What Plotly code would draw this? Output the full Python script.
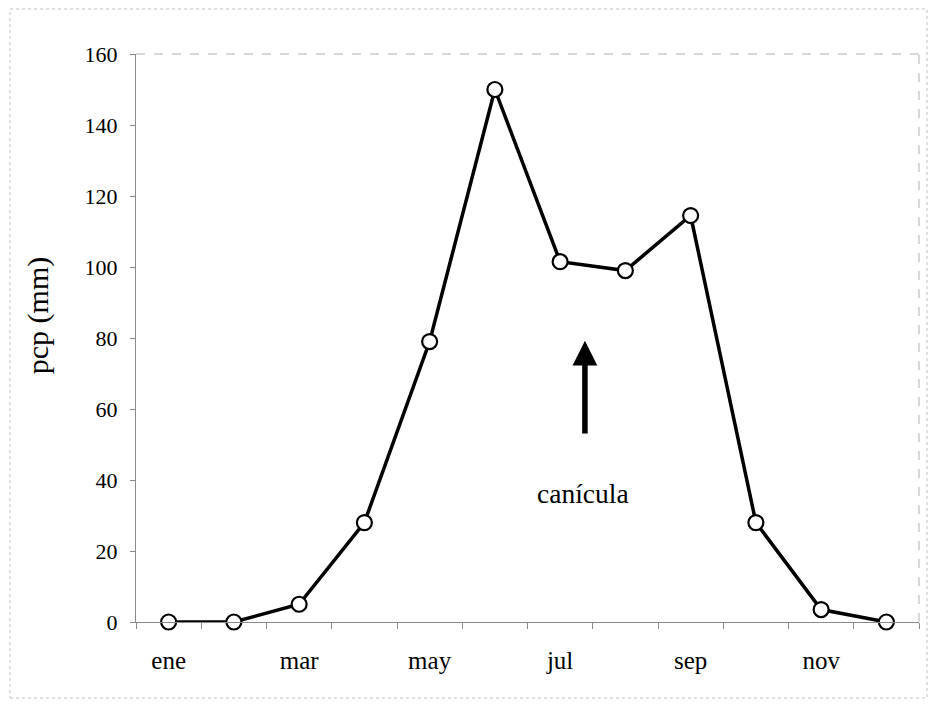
import plotly.graph_objects as go

months = ["ene", "feb", "mar", "abr", "may", "jun", "jul", "ago", "sep", "oct", "nov", "dic"]
pcp = [0, 0, 5, 28, 79, 150, 101.5, 99, 114.5, 28, 3.5, 0]
label_months = ["ene", "mar", "may", "jul", "sep", "nov"]
y_ticks = [0, 20, 40, 60, 80, 100, 120, 140, 160]

arrow_x = 6.38
arrow_tip = 79.2
arrow_tail = 52.7
label_text = "canícula"
label_x = 6.35
label_y = 36.3

FONT = "Liberation Serif, Times New Roman, serif"

fig = go.Figure()
fig.add_trace(go.Scatter(
    x=months, y=pcp, mode="lines+markers",
    line=dict(color="black", width=3.5),
    marker=dict(symbol="circle", size=15, color="white", line=dict(color="black", width=2.2)),
    cliponaxis=False, showlegend=False, hoverinfo="x+y",
))
# invisible trace on overlay axis to draw boundary ticks
fig.add_trace(go.Scatter(x=months, y=pcp, xaxis="x2", mode="markers",
                         marker=dict(opacity=0), showlegend=False, hoverinfo="skip"))

fig.update_layout(
    width=929, height=705,
    margin=dict(l=136, r=10, t=54, b=83),
    paper_bgcolor="white", plot_bgcolor="white",
    font=dict(family=FONT, color="black"),
    xaxis=dict(
        type="category", categoryorder="array", categoryarray=months,
        range=[-0.5, 11.5], tickmode="array", tickvals=label_months, ticktext=label_months,
        ticks="", showgrid=False, zeroline=False, showline=True, linecolor="#8a8a8a", linewidth=1,
        tickfont=dict(size=25, family=FONT), ticklabelstandoff=16,
    ),
    xaxis2=dict(
        type="category", categoryorder="array", categoryarray=months,
        range=[-0.5, 11.5], overlaying="x", side="bottom", tickson="boundaries",
        ticks="outside", ticklen=6, tickcolor="#8a8a8a", showticklabels=False,
        showgrid=False, zeroline=False, showline=False, matches="x",
    ),
    yaxis=dict(
        range=[0, 160], tickmode="array", tickvals=y_ticks, ticks="outside", ticklen=5,
        tickcolor="#8a8a8a", showgrid=False, zeroline=False, showline=True,
        linecolor="#8a8a8a", linewidth=1, tickfont=dict(size=22, family=FONT),
        ticklabelstandoff=8,
    ),
    shapes=[
        dict(type="line", xref="paper", yref="paper", x0=0, x1=1, y0=1, y1=1,
             line=dict(color="#b0b0b0", width=1, dash="dash")),
        dict(type="line", xref="paper", yref="paper", x0=1, x1=1, y0=0, y1=1,
             line=dict(color="#b0b0b0", width=1, dash="dash")),
        dict(type="rect", xref="paper", yref="paper", x0=-0.1609, x1=1.0102, y0=-0.1338, y1=1.0792,
             line=dict(color="#c0c0c0", width=1, dash="dot")),
    ],
    annotations=[
        dict(x=arrow_x, y=arrow_tip, ax=arrow_x, ay=arrow_tail, xref="x", yref="y",
             axref="x", ayref="y", text="", showarrow=True, arrowhead=2, arrowsize=0.9,
             arrowwidth=5.5, arrowcolor="black", standoff=0, startstandoff=0),
        dict(x=label_x, y=label_y, xref="x", yref="y", text=label_text, showarrow=False,
             font=dict(size=27.5, family=FONT), xanchor="center", yanchor="middle"),
        dict(x=-0.1252, y=0.54, xref="paper", yref="paper", text="pcp (mm)", showarrow=False,
             textangle=-90, font=dict(size=30, family=FONT), xanchor="center", yanchor="middle"),
    ],
)

fig.write_html("out.html")
